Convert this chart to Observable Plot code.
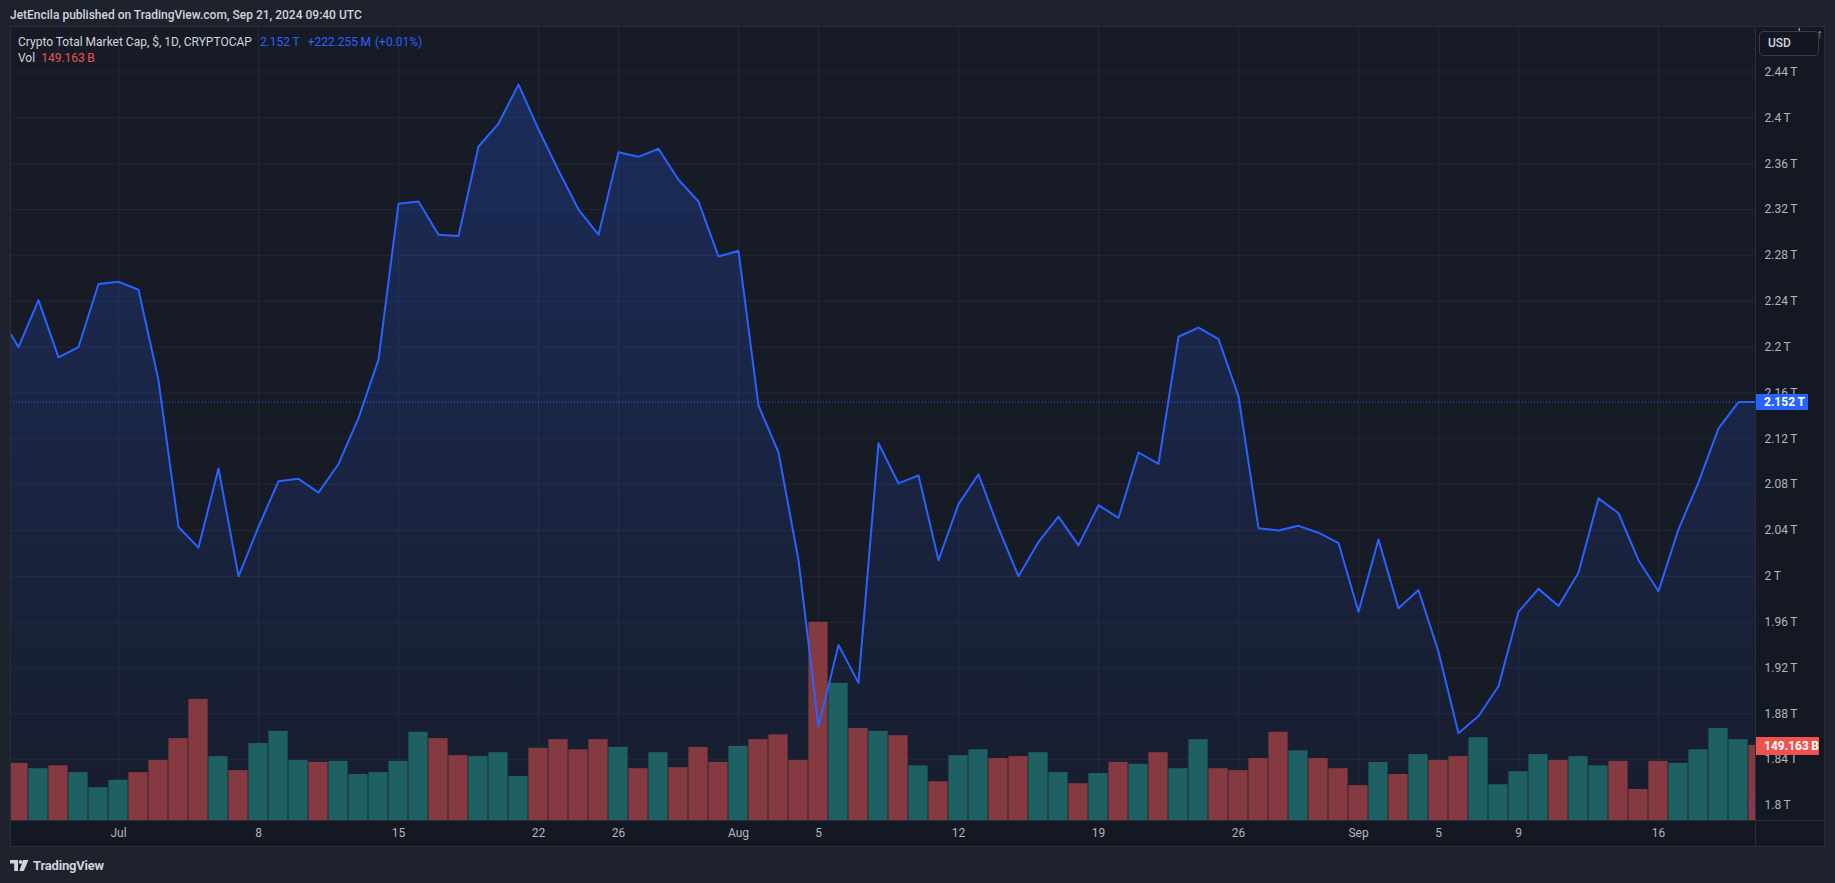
<!DOCTYPE html>
<html><head><meta charset="utf-8">
<script src="https://cdn.jsdelivr.net/npm/d3@7"></script>
<script src="https://cdn.jsdelivr.net/npm/@observablehq/plot@0.6"></script>
<style>
html,body{margin:0;padding:0;background:#1e222d;}
#root{position:relative;width:1835px;height:883px;overflow:hidden;font-family:Roboto,"Liberation Sans",sans-serif;color:#d1d4dc;}
#box{position:absolute;left:10px;top:26px;width:1815px;height:821px;background:#141822;}
#box svg{position:absolute;left:0;top:0;}
.abs{position:absolute;white-space:nowrap;}
</style></head><body><div id="root"></div>
<script>
// ---------------- data ----------------
const headerText = "JetEncila published on TradingView.com, Sep 21, 2024 09:40 UTC";
const seriesTitle = "Crypto Total Market Cap, $, 1D, CRYPTOCAP";
const seriesValues = ["2.152\u2009T", "+222.255\u2009M", "(+0.01%)"];
const volTitle = "Vol";
const volValueLabel = "149.163\u2009B";
const currency = "USD";

const priceStart = "2024-06-25"; // daily closes, trillions USD
const prices = [
  2.229, 2.200, 2.241, 2.191, 2.200, 2.255,
  2.257, 2.250, 2.171, 2.043, 2.025, 2.094, 2.000, 2.043, 2.083, 2.085, 2.073, 2.098, 2.138, 2.189,
  2.325, 2.327, 2.298, 2.297, 2.375, 2.395, 2.429, 2.390, 2.354, 2.320, 2.298, 2.370, 2.366, 2.373,
  2.346, 2.327, 2.279,
  2.284, 2.149, 2.108, 2.014, 1.869, 1.940, 1.907, 2.116, 2.081, 2.088, 2.014, 2.063, 2.089, 2.042,
  2.000, 2.030, 2.052, 2.027, 2.062, 2.051, 2.108, 2.098, 2.209, 2.217, 2.207, 2.157, 2.042, 2.040,
  2.044, 2.038, 2.029,
  1.969, 2.032, 1.972, 1.988, 1.934, 1.863, 1.878, 1.904, 1.969, 1.989, 1.974, 2.003, 2.068, 2.055,
  2.014, 1.987, 2.041, 2.082, 2.129, 2.152, 2.152
];

const volStart = "2024-06-26"; // daily volume, billions USD
const volumes = [
  113.4, 102.9, 108.6, 95.1, 65.3,
  79.8, 95.1, 119.2, 162.7, 240.5, 126.9, 99.1, 152.9, 177.0, 119.2, 115.4, 117.4, 91.4, 95.1,
  117.4, 175.2, 162.7, 128.9, 126.9, 134.7, 87.4, 143.4, 160.7, 140.4, 160.7, 145.2, 102.9, 134.7,
  104.9, 145.2, 115.4,
  147.2, 160.7, 170.2, 119.2, 393.6, 272.3, 182.7, 177.0, 168.4, 108.6, 76.9, 128.9, 140.4, 123.1,
  126.9, 134.7, 95.1, 73.1, 93.3, 115.4, 111.6, 134.7, 102.9, 160.7, 102.9, 99.1, 123.1, 175.2,
  138.4, 123.1, 102.9,
  69.3, 115.4, 91.4, 130.9, 119.2, 126.9, 164.4, 71.1, 97.1, 130.9, 119.2, 126.9, 108.6, 117.4,
  61.6, 117.4, 113.4, 140.4, 182.7, 160.7, 149.163
];
// u = up day (teal), d = down day (red)
const volDirs = [
  "d","u","d","u","u",
  "u","d","d","d","d","u","d","u","u","u","d","u","u","u",
  "u","u","d","d","u","u","u","d","d","d","d","u","d","u",
  "d","d","d",
  "u","d","d","d","d","u","d","u","d","u","d","u","u","d",
  "d","u","u","d","u","d","u","d","u","u","d","d","d","d",
  "u","d","d",
  "d","u","d","u","d","d","u","u","u","u","d","u","u","d",
  "d","d","u","u","u","u","d"
];

const xTickDates = ["2024-07-01","2024-07-08","2024-07-15","2024-07-22","2024-07-26","2024-08-01","2024-08-05",
  "2024-08-12","2024-08-19","2024-08-26","2024-09-01","2024-09-05","2024-09-09","2024-09-16"];
const xTickLabels = ["Jul","8","15","22","26","Aug","5","12","19","26","Sep","5","9","16"];
const yTicks = [1.8, 1.84, 1.88, 1.92, 1.96, 2.0, 2.04, 2.08, 2.12, 2.16, 2.2, 2.24, 2.28, 2.32, 2.36, 2.4, 2.44];
const yTickLabels = ["1.8\u2009T","1.84\u2009T","1.88\u2009T","1.92\u2009T","1.96\u2009T","2\u2009T","2.04\u2009T","2.08\u2009T",
  "2.12\u2009T","2.16\u2009T","2.2\u2009T","2.24\u2009T","2.28\u2009T","2.32\u2009T","2.36\u2009T","2.4\u2009T","2.44\u2009T"];
const lastPrice = 2.152;
const lastPriceLabel = "2.152\u2009T";
const lastVolume = 149.163;

// ---------------- build ----------------
const DAY = 864e5;
const priceData = prices.map((v, i) => ({date: new Date(Date.parse(priceStart) + i * DAY), value: v}));
const volData = volumes.map((v, i) => ({date: new Date(Date.parse(volStart) + i * DAY), value: v, dir: volDirs[i]}));
const xTicks = xTickDates.map(s => new Date(s));
const xLabelMap = new Map(xTicks.map((d, i) => [+d, xTickLabels[i]]));
const yLabelMap = new Map(yTicks.map((v, i) => [v, yTickLabels[i]]));

const W = 1815, H = 821, MR = 70, MB = 27;
const anchor = Date.parse(volStart);
const xDomain = [new Date(anchor - 0.4 * DAY), new Date(anchor + 86.85 * DAY)];
const yDomain = [1.7869, 2.4797];
const volDomain = [0, 1577];

const paneBg = "#171b26", gridColor = "#232733", borderColor = "#2a2e39";
const blue = "#2962ff", teal = "#1f6062", red = "#843a40";

const base = {
  width: W, height: H, marginLeft: 0, marginRight: MR, marginTop: 0, marginBottom: MB,
  style: {background: "transparent", color: "#b2b5be", fontFamily: "Roboto, 'Liberation Sans', sans-serif", fontSize: "12px", overflow: "visible"}
};

function gradientDefs() {
  const ns = "http://www.w3.org/2000/svg";
  const defs = document.createElementNS(ns, "defs");
  const g = document.createElementNS(ns, "linearGradient");
  g.setAttribute("id", "areaGrad");
  g.setAttribute("x1", "0"); g.setAttribute("y1", "0"); g.setAttribute("x2", "0"); g.setAttribute("y2", "1");
  [["0", 0.24], ["1", 0.03]].forEach(([o, a]) => {
    const s = document.createElementNS(ns, "stop");
    s.setAttribute("offset", o); s.setAttribute("stop-color", blue); s.setAttribute("stop-opacity", a);
    g.appendChild(s);
  });
  defs.appendChild(g);
  return defs;
}

const plotA = Plot.plot({
  ...base,
  x: {type: "utc", domain: xDomain, axis: null},
  y: {domain: yDomain, axis: null},
  marks: [
    gradientDefs,
    Plot.frame({fill: paneBg}),
    Plot.gridX(xTicks, {stroke: gridColor, strokeOpacity: 1}),
    Plot.gridY(yTicks, {stroke: gridColor, strokeOpacity: 1}),
    Plot.areaY(priceData, {x: "date", y1: yDomain[0], y2: "value", fill: "url(#areaGrad)", clip: true}),
    Plot.axisX(xTicks, {tickSize: 0, tickPadding: 8, fontSize: 12, fill: "#b2b5be", tickFormat: d => xLabelMap.get(+d)}),
    Plot.axisY(yTicks, {anchor: "right", tickSize: 0, tickPadding: 9, fontSize: 12, fill: "#b2b5be", textAnchor: "start", tickFormat: v => yLabelMap.get(v)})
  ]
});

const plotB = Plot.plot({
  ...base,
  x: {type: "utc", domain: xDomain, axis: null},
  y: {domain: volDomain, axis: null},
  marks: [
    Plot.rectY(volData.filter(d => d.dir === "u"), {x1: d => new Date(+d.date - 0.48 * DAY), x2: d => new Date(+d.date + 0.48 * DAY), y: "value", fill: teal, clip: true}),
    Plot.rectY(volData.filter(d => d.dir === "d"), {x1: d => new Date(+d.date - 0.48 * DAY), x2: d => new Date(+d.date + 0.48 * DAY), y: "value", fill: red, clip: true})
  ]
});

const plotC = Plot.plot({
  ...base,
  x: {type: "utc", domain: xDomain, axis: null},
  y: {domain: yDomain, axis: null},
  marks: [
    Plot.ruleY([lastPrice], {stroke: blue, strokeWidth: 1, strokeDasharray: "1,2"}),
    Plot.line(priceData, {x: "date", y: "value", stroke: blue, strokeWidth: 2, clip: true})
  ]
});

// ---------------- layout ----------------
const root = document.getElementById("root");
function div(parent, css, text) {
  const e = document.createElement("div");
  e.className = "abs";
  e.style.cssText = css;
  if (text != null) e.textContent = text;
  parent.appendChild(e);
  return e;
}

div(root, "left:10px;top:8px;font-size:12px;font-weight:500;color:#d1d4dc;", headerText);

const box = document.createElement("div");
box.id = "box";
root.appendChild(box);
box.appendChild(plotA);
box.appendChild(plotB);
box.appendChild(plotC);

// separators
div(box, `left:0;top:${H - MB}px;width:${W}px;height:1px;background:${borderColor};`);
div(box, `left:${W - MR}px;top:0;width:1px;height:${H}px;background:${borderColor};`);
div(box, `left:0;top:0;width:${W}px;height:${H}px;box-sizing:border-box;border:1px solid ${borderColor};`);

// legend
const lg = div(box, "left:8px;top:9px;font-size:12px;color:#d1d4dc;");
const t1 = document.createElement("span"); t1.textContent = seriesTitle; lg.appendChild(t1);
seriesValues.forEach((s, i) => {
  const sp = document.createElement("span");
  sp.textContent = s;
  sp.style.color = blue;
  sp.style.marginLeft = i === 2 ? "4px" : "8px";
  lg.appendChild(sp);
});
const vl = div(box, "left:8px;top:25px;font-size:12px;color:#d1d4dc;");
const v1 = document.createElement("span"); v1.textContent = volTitle; vl.appendChild(v1);
const v2 = document.createElement("span"); v2.textContent = volValueLabel; v2.style.color = "#f0524f"; v2.style.marginLeft = "6px"; vl.appendChild(v2);

// currency box
div(box, `left:${W - MR + 4}px;top:5px;width:60px;height:25px;box-sizing:border-box;border:1px solid #363a45;border-radius:4px;background:#131722;font-size:12px;font-weight:500;line-height:23px;padding-left:8px;color:#d1d4dc;`, currency);

// last price label
const yP = plotC.scale("y").apply(lastPrice);
div(box, `left:${W - MR + 1}px;top:${yP - 8}px;width:52px;height:16px;background:${blue};color:#fff;font-size:12px;font-weight:bold;line-height:16px;padding-left:8px;box-sizing:border-box;`, lastPriceLabel);

// last volume label
const yV = plotB.scale("y").apply(lastVolume);
div(box, `left:${W - MR + 1}px;top:${yV - 8}px;width:63px;height:18px;background:#f0524f;color:#fff;font-size:12px;font-weight:bold;line-height:18px;padding-left:8px;box-sizing:border-box;`, volValueLabel);

// small marker at pane edge
const clipWrap = div(box, `left:0;top:0;width:${W - MR}px;height:${H - MB}px;overflow:hidden;`);
div(clipWrap, `left:${W - MR - 6}px;top:${H - MB - 24}px;width:18px;height:18px;box-sizing:border-box;border:1.5px solid #9c27b0;border-radius:50%;`);

// footer logo
const foot = div(root, "left:10px;top:859px;height:14px;");
foot.innerHTML = '<svg width="20" height="11" viewBox="0 0 20 11" style="position:absolute;left:0;top:1px"><path d="M0 0H8V11H4.2V3.6H0Z" fill="#d1d4dc"/><circle cx="10.6" cy="1.9" r="1.9" fill="#d1d4dc"/><path d="M13 0H18.5L13.8 11H9.4Z" fill="#d1d4dc"/></svg>';
div(foot, "left:23px;top:-1px;font-size:13px;font-weight:bold;color:#d1d4dc;letter-spacing:-0.2px;", "TradingView");
</script></body></html>
